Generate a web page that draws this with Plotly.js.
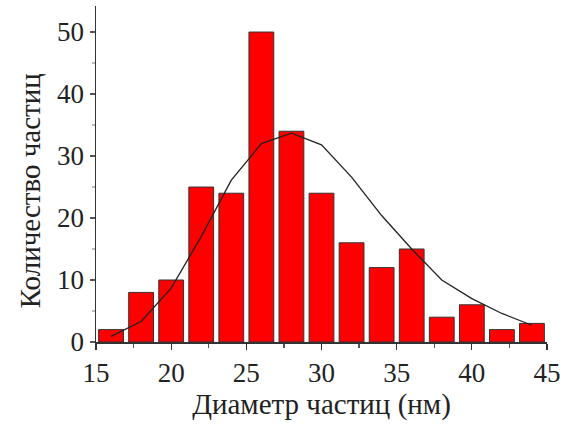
<!DOCTYPE html>
<html>
<head>
<meta charset="utf-8">
<script src="https://cdn.plot.ly/plotly-3.0.1.min.js"></script>
<style>html,body{margin:0;padding:0;background:#fff;}#chart{width:578px;height:427px;}</style>
</head>
<body>
<div id="chart"></div>
<script>
// Histogram bins (particle diameter, nm) and counts
const binCenters = [16, 18, 20, 22, 24, 26, 28, 30, 32, 34, 36, 38, 40, 42, 44];
const counts = [2, 8, 10, 25, 24, 50, 34, 24, 16, 12, 15, 4, 6, 2, 3];
// Fitted distribution curve
const fitX = [16, 18, 20, 22, 24, 26, 28, 30, 32, 34, 36, 38, 40, 42, 44];
const fitY = [0.9, 3.3, 8.7, 17.0, 26.1, 32.0, 33.7, 31.8, 26.6, 20.4, 15.0, 10.0, 7.0, 4.6, 2.7];
const xTitle = 'Диаметр частиц (нм)';
const yTitle = 'Количество частиц';

const fam = 'Liberation Serif, Times New Roman, serif';
const tickFont = {family: fam, color: '#222', size: 27};
const titleFont = {family: fam, color: '#222', size: 29};

const traces = [
  {
    type: 'bar', x: binCenters, y: counts, width: 1.65,
    marker: {color: '#ff0000', line: {color: '#333', width: 1}},
    hoverinfo: 'x+y'
  },
  {
    type: 'scatter', mode: 'lines', x: fitX, y: fitY,
    line: {color: '#222', width: 1.3}
  }
];

const layout = {
  width: 578, height: 427,
  margin: {l: 96, r: 31, t: 6, b: 85},
  paper_bgcolor: '#fff', plot_bgcolor: '#fff',
  showlegend: false,
  font: tickFont,
  xaxis: {
    range: [15, 45], tickvals: [15, 20, 25, 30, 35, 40, 45],
    ticks: 'outside', ticklen: 6, tickwidth: 1.3, tickcolor: '#333',
    showline: true, linecolor: '#333', linewidth: 1.5,
    showgrid: false, zeroline: false,
    minor: {dtick: 2.5, tick0: 15, ticks: 'outside', ticklen: 4, tickcolor: '#555', showgrid: false},
    tickfont: tickFont,
    title: {text: xTitle, font: titleFont, standoff: 2}
  },
  yaxis: {
    range: [0, 54.2], tickvals: [0, 10, 20, 30, 40, 50],
    ticks: 'outside', ticklen: 5, tickwidth: 1.3, tickcolor: '#555',
    showline: true, linecolor: '#333', linewidth: 1.5,
    showgrid: false, zeroline: false,
    minor: {dtick: 5, ticks: 'outside', ticklen: 3, tickcolor: '#bbb', showgrid: false},
    tickfont: tickFont
  },
  annotations: [{
    text: yTitle, font: titleFont, textangle: -90, showarrow: false,
    xref: 'paper', yref: 'paper', x: -0.146, y: 0.449,
    xanchor: 'center', yanchor: 'middle'
  }]
};

Plotly.newPlot('chart', traces, layout, {displayModeBar: false, staticPlot: true});
</script>
</body>
</html>
